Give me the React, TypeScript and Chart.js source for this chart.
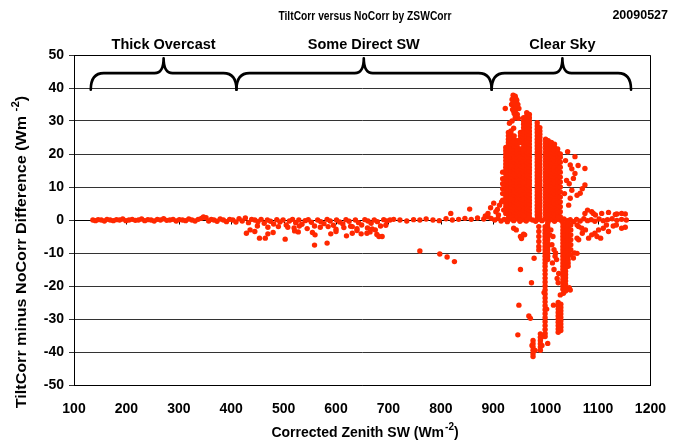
import React, { useEffect, useRef } from 'react';
import { Chart, registerables } from 'chart.js';
Chart.register(...registerables);

// ---------- text ----------
const chartTitle = 'TiltCorr versus NoCorr by ZSWCorr';
const dateLabel = '20090527';
const xTitle = 'Corrected Zenith SW (Wm';
const yTitle = 'TiltCorr minus NoCorr Difference (Wm';
const braceLabels = ['Thick Overcast', 'Some Direct SW', 'Clear Sky'];
const braceFrom = [132, 410, 897];
const braceTo = [410, 897, 1163];
const bracePeak = [271, 653, 1032];

// ---------- data (x = Corrected Zenith SW, y = difference) ----------
const zeroBandLeft: [number, number][] = [
  [136,0],[141,-0.2],[146,0.1],[152,0],[158,-0.3],[163,0.2],[169,0],[175,-0.2],[181,0.1],[187,0],
  [193,0.3],[199,-0.2],[205,0],[211,0.2],[217,-0.1],[223,0],[229,0.3],[235,-0.2],[241,0.1],[247,0],
  [253,-0.3],[259,0.2],[265,0],[271,0.4],[277,-0.1],[283,0],[289,0.2],[295,-0.3],[301,0.1],[307,0],
  [313,-0.2],[319,0.3],[325,0],[331,-0.3],[337,0.2],[343,0.5],[347,0.9],[352,0.7],[357,-0.3],[362,0.2],
  [367,0],[373,-0.4],[379,0.3],[385,0],[391,-0.5],[397,0.2],[403,0],[409,-0.6],[415,0.4],[421,-0.3],
  [427,0.6],[433,-0.8],[439,0.2]
];
const zeroBandMid: [number, number][] = [
  [445,0],[451,-0.5],[457,0.2],[463,-1],[469,0],[475,-0.4],[481,-1.2],[487,0.1],[493,-0.6],[499,0],
  [505,-1.5],[511,-0.3],[517,0.2],[523,-0.8],[529,0],[535,-1.3],[541,-0.2],[547,0.1],[553,-0.7],[559,-1.8],
  [565,0],[571,-0.5],[577,-1.1],[583,0.2],[589,-0.3],[595,-1.6],[601,0],[607,-0.6],[613,-1.2],[619,0.1],
  [625,-0.4],[631,-2],[637,0],[643,-0.8],[649,-1.5],[655,0.1],[661,-0.3],[667,-1],[673,0],[679,-0.5],
  [685,-1.8],[691,0.1],[697,-0.3],[703,0]
];
const lowerBandMid: [number, number][] = [
  [450,-1.8],[470,-2.2],[490,-2],[520,-2.4],[545,-2.6],[570,-2.2],[600,-2.8],[615,-2.3],[640,-2.6],
  [660,-2.4],[675,-3],[508,-2.2],[530,-1.8],[585,-2],[628,-1.9],[695,-1.6]
];
const scatterMid: [number, number][] = [
  [429,-4],[436,-3],[454,-5.5],[465,-5.5],[503,-5.8],[521,-3.3],[528,-3.6],[559,-7.6],[583,-7],[620,-4.8],
  [631,-4],[648,-4.2],[659,-4],[669,-2.7],[682,-5],[688,-5],[560,-4.5],[555,-3.8],[590,-4.2],[600,-3.5],
  [640,-3.2],[665,-3.6],[678,-4.4],[445,-3.5],[480,-3.8],[470,-4.2]
];
const sparseRight: [number, number][] = [
  [710,0.2],[722,0],[735,-0.3],[748,0.1],[760,0],[772,0.3],[785,0],[797,-0.2],[810,0.4],[822,0],
  [834,0.2],[846,0.5],[858,0.2],[870,0.6],[882,0.3],[890,1],[896,0.5],[819,2],[855,3.3]
];
const isolatedMid: [number, number][] = [[760,-9.4],[798,-10.3],[826,-12.6],[812,-11.2]];
const riseBeforeCluster: [number, number][] = [
  [885,1.2],[890,2],[895,3.7],[901,5.1],[905,2.5],[910,1.5],[912,4.5],[916,5.5],[920,3],[926,2.5],[908,3.2]
];
const clusterTopBlob: [number, number][] = [
  [938,37.8],[942,37.5],[936,36.5],[940,36],[945,36.3],[935,35],[941,34.8],[947,35],[937,33.5],[943,33.3],
  [949,33.8],[940,32.3],[946,32],[942,31],[948,30.8],[923,33.8],[931,29.3],[939,27.8],[936,30],
  [944,34.5],[939,33],[944,31.8],[938,35.5],[943,36.8]
];
const upperColX = [918, 924, 929, 934, 940, 946, 952, 958, 964, 969, 984, 989, 1000, 1005, 1011, 1017, 1023, 1028];
const upperColY: number[][] = [
  [6, 8, 9.5, 11, 12.5, 14.5],
  [2, 3, 4, 5, 6, 7, 8, 9, 10, 11, 12, 13, 14, 15, 16, 17, 18, 19, 20, 21, 22],
  [0.5, 1.5, 2.5, 3.5, 4.5, 5.5, 6.5, 7.5, 8.5, 9.5, 10.5, 11.5, 12.5, 13.5, 14.5, 15.5, 16.5, 17.5, 18.5, 19.5, 20.5, 21.5, 22.5, 23.5, 24.5, 25.5, 26.5],
  [1, 2, 3, 4, 5, 6, 7, 8, 9, 10, 11, 12, 13, 14, 15, 16, 17, 18, 19, 20, 21, 22, 23, 24, 25, 26, 27],
  [0.5, 1.5, 2.5, 3.5, 4.5, 5.5, 6.5, 7.5, 8.5, 9.5, 10.5, 11.5, 12.5, 13.5, 14.5, 15.5, 16.5, 17.5, 18.5, 19.5, 20.5, 21.5, 22.5, 23.5, 24.5, 25.5],
  [1, 2, 3, 4, 5, 6, 7, 8, 9, 10, 11, 12, 13, 14, 15, 16, 17, 18, 19, 20, 21, 22, 23, 24],
  [0.5, 1.5, 2.5, 3.5, 4.5, 5.5, 6.5, 7.5, 8.5, 9.5, 10.5, 11.5, 12.5, 13.5, 14.5, 15.5, 16.5, 17.5, 18.5, 19.5, 20.5, 21.5, 23.5, 24.5, 25.5, 26.5],
  [1, 2, 3, 4, 5, 6, 7, 8, 9, 10, 11, 12, 13, 14, 15, 16, 17, 18, 19, 20, 21, 22, 23, 24, 25, 26, 27, 28, 29, 30, 31],
  [0.5, 1.5, 2.5, 3.5, 4.5, 5.5, 6.5, 7.5, 8.5, 9.5, 10.5, 11.5, 12.5, 13.5, 14.5, 15.5, 16.5, 17.5, 18.5, 19.5, 20.5, 21.5, 22.5, 23.5, 24.5, 25.5, 26.5, 27.5, 28.5, 29.5, 30.5, 31.5, 32.5],
  [1, 2, 3, 4, 5, 6, 7, 8, 9, 10, 11, 12, 13, 14, 15, 16, 17, 18, 19, 20, 21, 22, 23, 24, 25, 26, 27, 28, 29, 30, 31, 32],
  [0.5, 1.5, 2.5, 3.5, 4.5, 5.5, 6.5, 7.5, 8.5, 9.5, 10.5, 11.5, 12.5, 13.5, 14.5, 15.5, 16.5, 17.5, 18.5, 19.5, 20.5, 21.5, 22.5, 23.5, 24.5, 25.5, 26.5, 27.5, 28.5, 29.5],
  [1, 2, 3, 4, 5, 6, 7, 8, 9, 10, 11, 12, 13, 14, 15, 16, 17, 18, 19, 20, 21, 22, 23, 24, 25, 26, 27, 28],
  [0.5, 1.5, 2.5, 3.5, 4.5, 5.5, 6.5, 7.5, 8.5, 9.5, 10.5, 11.5, 12.5, 13.5, 14.5, 15.5, 16.5, 17.5, 18.5, 19.5, 20.5, 21.5, 22.5, 23.5, 24.5],
  [1, 2, 3, 4, 5, 6, 7, 8, 9, 10, 11, 12, 13, 14, 15, 16, 17, 18, 19, 20, 21, 22, 23, 24],
  [0.5, 1.5, 2.5, 3.5, 4.5, 5.5, 6.5, 7.5, 8.5, 9.5, 10.5, 11.5, 12.5, 13.5, 14.5, 15.5, 16.5, 17.5, 18.5, 19.5, 20.5, 21.5, 22.5, 23.5],
  [1, 2, 3, 4, 5, 6, 7, 8, 9, 10, 11, 12, 13, 14, 15, 16, 17, 18, 19, 20, 21, 22, 23],
  [0.5, 1.5, 2.5, 3.5, 4.5, 5.5, 6.5, 7.5, 8.5, 9.5, 10.5, 11.5, 12.5, 13.5, 14.5, 15.5, 16.5, 17.5, 18.5, 19.5, 20.5, 21.5],
  [1, 2.5, 4, 5.5, 7, 8.5, 10, 11.5, 13, 14.5, 16, 17.5, 19, 20]
];
const upperRightScatter: [number, number][] = [
  [1042,20.7],[1056,19.2],[1047,16.7],[1050,15.5],[1056,14.1],[1053,12.6],[1075,15.6],[1075,10.6],[1066,8.1],
  [1060,7.5],[1050,9],[1047,6.6],[1044,4.5],[1040,12],[1038,18],[1045,11],[1062,16.5],[1070,9.5],[1080,3],[1036,8]
];
const zeroBandRight: [number, number][] = [
  [903,0],[909,0.5],[915,-0.3],[921,0.2],[927,-0.5],[933,0.3],[939,-0.2],[945,0.4],[951,-0.4],[957,0.1],
  [963,-0.3],[969,0.3],[975,0],[981,-0.4],[987,0.2],[993,-0.2],[999,0.3],[1005,-0.3],[1011,0.1],[1017,-0.4],
  [1023,0.2],[1029,-0.1],[1035,0.3],[1041,-0.2],[1047,0.1],[1053,-0.5],[1059,0.2],[1066,-0.3],[1073,0.4],
  [1080,-0.2],[1087,0.1],[1094,-0.4],[1102,0.3],[1110,-0.2],[1118,0.1],[1127,0.4],[1136,-0.1],[1145,0.2],[1154,0]
];
const lowerColX = [1033, 1038, 1043, 1048, 999, 1004, 1024, 1029, 987, 976, 990];
const lowerColY: number[][] = [
  [-1, -2, -3, -4, -5, -6, -7, -8, -9, -10, -11, -12, -13, -14, -15, -16, -17, -18, -19, -20, -21],
  [-1.5, -2.5, -3.5, -4.5, -5.5, -6.5, -7.5, -8.5, -9.5, -10.5, -11.5, -12.5, -13.5, -14.5, -15.5, -16.5, -17.5, -18.5, -19.5, -20.5, -21.5],
  [-1, -2, -3, -4, -5, -6, -7, -8, -9, -10, -11, -12, -13, -14],
  [-1.5, -3, -4.5, -6, -7.5, -9, -10.5],
  [-2, -3, -4, -5, -6, -7, -8, -9, -10, -11, -12, -13, -14, -15.2, -16.4, -17.6, -18.8, -20, -21.2, -22.4, -23.6, -24.8, -26, -27.2, -28.4, -29.6, -30.8, -32, -33.2, -34.4, -35.3],
  [-1, -2, -3, -4, -5, -6, -7, -8, -9, -10, -11, -12],
  [-25, -26, -27, -28, -29, -30, -31, -32, -33, -34],
  [-25.5, -26.5, -27.5, -28.5, -29.5, -30.5, -31.5, -32.5, -33.5],
  [-2, -3.5, -5, -6.5, -8, -9.1],
  [-36.5, -37.5, -38.5, -39.5, -40.5, -41.4],
  [-34.5, -35.5, -36.5, -37.5, -38.5, -39.5]
];
const lowerScatter: [number, number][] = [
  [1045,-20.5],[1028,-22.7],[1034,-22.2],[1047,-21.2],[1004,-37.4],[1002,-27],[997,-22],[1015,-25.8],
  [1022,-17.7],[1025,-16.2],[1024,-19],[1021,-12],[1019,-10],[1010,-3],[1014,-5],[1012,-7.5],[1016,-9],
  [1008,-4.5],[1018,-11],[1013,-13],[1016,-15],[980,-39.5],[974,-38],[993,-38],[992,-35.5],
  [952,-15],[973,-19],[949,-25.8],[947,-34.8],[978,-11.6],[968,-29.1],[971,-29.8],[960,-4.5],[954,-5.6],
  [939,-2.5],[944,-3],[952,-5],[958,-4.3]
];
const rightScatter: [number, number][] = [
  [1060,-1.5],[1063,-2],[1069,-2.5],[1060,-5.5],[1063,-6],[1082,-5.5],[1088,-4.5],[1094,-4],[1101,-3],
  [1110,-2.5],[1116,-1.5],[1129,-1.8],[1135,-1.5],[1145,-2.5],[1055,-10],[1060,-10.1],[1053,-11.5],
  [1070,-4],[1076,-3],[1098,-5],[1105,-5.5],[1120,-3.5],[1152,-2.2],
  [1075,2],[1088,2.5],[1107,2],[1136,1.8],[1145,2],[1120,2.3],[1095,1.5],[1152,1.8],[1091,2],[1133,1.7]
];

const pairSets = [zeroBandLeft, zeroBandMid, lowerBandMid, scatterMid, sparseRight, isolatedMid,
  riseBeforeCluster, clusterTopBlob, upperRightScatter, zeroBandRight, lowerScatter, rightScatter];

function buildPoints() {
  const pts: { x: number; y: number }[] = [];
  pairSets.forEach(set => set.forEach(([x, y]) => pts.push({ x, y })));
  upperColX.forEach((x, i) => upperColY[i].forEach(y => pts.push({ x, y })));
  lowerColX.forEach((x, i) => lowerColY[i].forEach(y => pts.push({ x, y })));
  return pts;
}

const FONT = 'Liberation Sans, Arial, sans-serif';

function drawSupText(ctx: CanvasRenderingContext2D, main: string, sup: string, tail: string, cx: number, cy: number, size: number, gap: number) {
  const f1 = `bold ${size}px ${FONT}`;
  const f2 = `bold ${Math.round(size * 0.7)}px ${FONT}`;
  ctx.font = f1;
  const w1 = ctx.measureText(main).width;
  const w3 = ctx.measureText(tail).width;
  ctx.font = f2;
  const w2 = ctx.measureText(sup).width;
  const total = w1 + gap + w2 + w3;
  let x0 = cx - total / 2;
  ctx.textAlign = 'left';
  ctx.textBaseline = 'middle';
  ctx.font = f1;
  ctx.fillText(main, x0, cy);
  x0 += w1 + gap;
  ctx.font = f2;
  ctx.fillText(sup, x0, cy - size * 0.38);
  x0 += w2;
  ctx.font = f1;
  ctx.fillText(tail, x0, cy);
}

const decorations = {
  id: 'decorations',
  beforeDatasetsDraw(chart: any) {
    const { ctx, chartArea, scales } = chart;
    const xs = scales.x, ys = scales.y;
    ctx.save();
    ctx.strokeStyle = '#000';
    ctx.lineWidth = 1;
    ctx.beginPath();
    ctx.moveTo(chartArea.left, Math.round(chartArea.top) + 0.5);
    ctx.lineTo(Math.round(chartArea.right) + 0.5, Math.round(chartArea.top) + 0.5);
    ctx.lineTo(Math.round(chartArea.right) + 0.5, chartArea.bottom);
    ctx.stroke();
    const y0 = Math.round(ys.getPixelForValue(0)) + 0.5;
    ctx.beginPath();
    ctx.moveTo(chartArea.left, y0);
    ctx.lineTo(chartArea.right, y0);
    xs.ticks.forEach((t: any) => {
      const px = Math.round(xs.getPixelForValue(t.value)) + 0.5;
      ctx.moveTo(px, y0);
      ctx.lineTo(px, y0 + 4);
    });
    ctx.stroke();

    // braces
    const yb = ys.getPixelForValue(39.5);
    const yf = ys.getPixelForValue(44.5);
    const yp = ys.getPixelForValue(49);
    ctx.lineWidth = 2.6;
    ctx.lineCap = 'round';
    ctx.lineJoin = 'round';
    braceLabels.forEach((label, i) => {
      const a = xs.getPixelForValue(braceFrom[i]);
      const b = xs.getPixelForValue(braceTo[i]);
      const p = xs.getPixelForValue(bracePeak[i]);
      const r = 13, rp = 9;
      ctx.beginPath();
      ctx.moveTo(a, yb);
      ctx.quadraticCurveTo(a, yf, a + r, yf);
      ctx.lineTo(p - rp, yf);
      ctx.quadraticCurveTo(p, yf, p, yp);
      ctx.quadraticCurveTo(p, yf, p + rp, yf);
      ctx.lineTo(b - r, yf);
      ctx.quadraticCurveTo(b, yf, b, yb);
      ctx.stroke();
      ctx.fillStyle = '#000';
      ctx.font = `bold 14.5px ${FONT}`;
      ctx.textAlign = 'center';
      ctx.textBaseline = 'middle';
      ctx.fillText(label, p, 45);
    });

    // titles
    ctx.fillStyle = '#000';
    ctx.textBaseline = 'middle';
    ctx.save();
    ctx.translate(365, 16);
    ctx.scale(0.76, 1);
    ctx.font = `bold 13.5px ${FONT}`;
    ctx.textAlign = 'center';
    ctx.fillText(chartTitle, 0, 0);
    ctx.restore();
    ctx.font = `bold 12.5px ${FONT}`;
    ctx.textAlign = 'right';
    ctx.fillText(dateLabel, 668, 16);

    drawSupText(ctx, xTitle, '-2', ')', 365, 433, 14, 1);
    ctx.save();
    ctx.translate(22, 252);
    ctx.rotate(-Math.PI / 2);
    ctx.scale(1.15, 1);
    drawSupText(ctx, yTitle, '-2', ')', 0, 0, 14, 4);
    ctx.restore();
    ctx.restore();
  }
};

export default function App() {
  const ref = useRef<HTMLCanvasElement>(null);
  useEffect(() => {
    const canvas = ref.current!;
    const chart = new Chart(canvas, {
      type: 'scatter',
      data: {
        datasets: [{
          data: buildPoints(),
          pointStyle: 'circle',
          pointRadius: 2.7,
          pointBorderWidth: 0,
          backgroundColor: 'rgb(255,40,0)',
          borderColor: 'rgb(255,40,0)',
        }]
      },
      options: {
        animation: false,
        responsive: false,
        devicePixelRatio: 1,
        layout: { padding: { left: 0, top: 55, right: 29, bottom: 0 } },
        plugins: { legend: { display: false }, tooltip: { enabled: false }, title: { display: false } },
        scales: {
          x: {
            type: 'linear', min: 100, max: 1200,
            afterFit: (s: any) => { s.height = 60; },
            ticks: { stepSize: 100, color: '#000', font: { family: FONT, size: 14, weight: 'bold' }, padding: 16, maxRotation: 0,
              callback: (v: any) => String(v) },
            grid: { display: false, drawTicks: false },
            border: { display: true, color: '#000', width: 1 },
          },
          y: {
            type: 'linear', min: -50, max: 50,
            afterFit: (s: any) => { s.width = 74; },
            ticks: { stepSize: 10, color: '#000', font: { family: FONT, size: 14, weight: 'bold' }, padding: 5,
              callback: (v: any) => String(v) },
            grid: { color: '#333', lineWidth: 1, tickLength: 5, drawTicks: true },
            border: { display: true, color: '#000', width: 1 },
          }
        }
      },
      plugins: [decorations]
    } as any);
    return () => chart.destroy();
  }, []);
  return (
    <div style={{ position: 'absolute', left: 0, top: 0, width: 682, height: 445, background: '#fff' }}>
      <canvas ref={ref} width={682} height={445} style={{ display: 'block', width: 682, height: 445 }} />
    </div>
  );
}
